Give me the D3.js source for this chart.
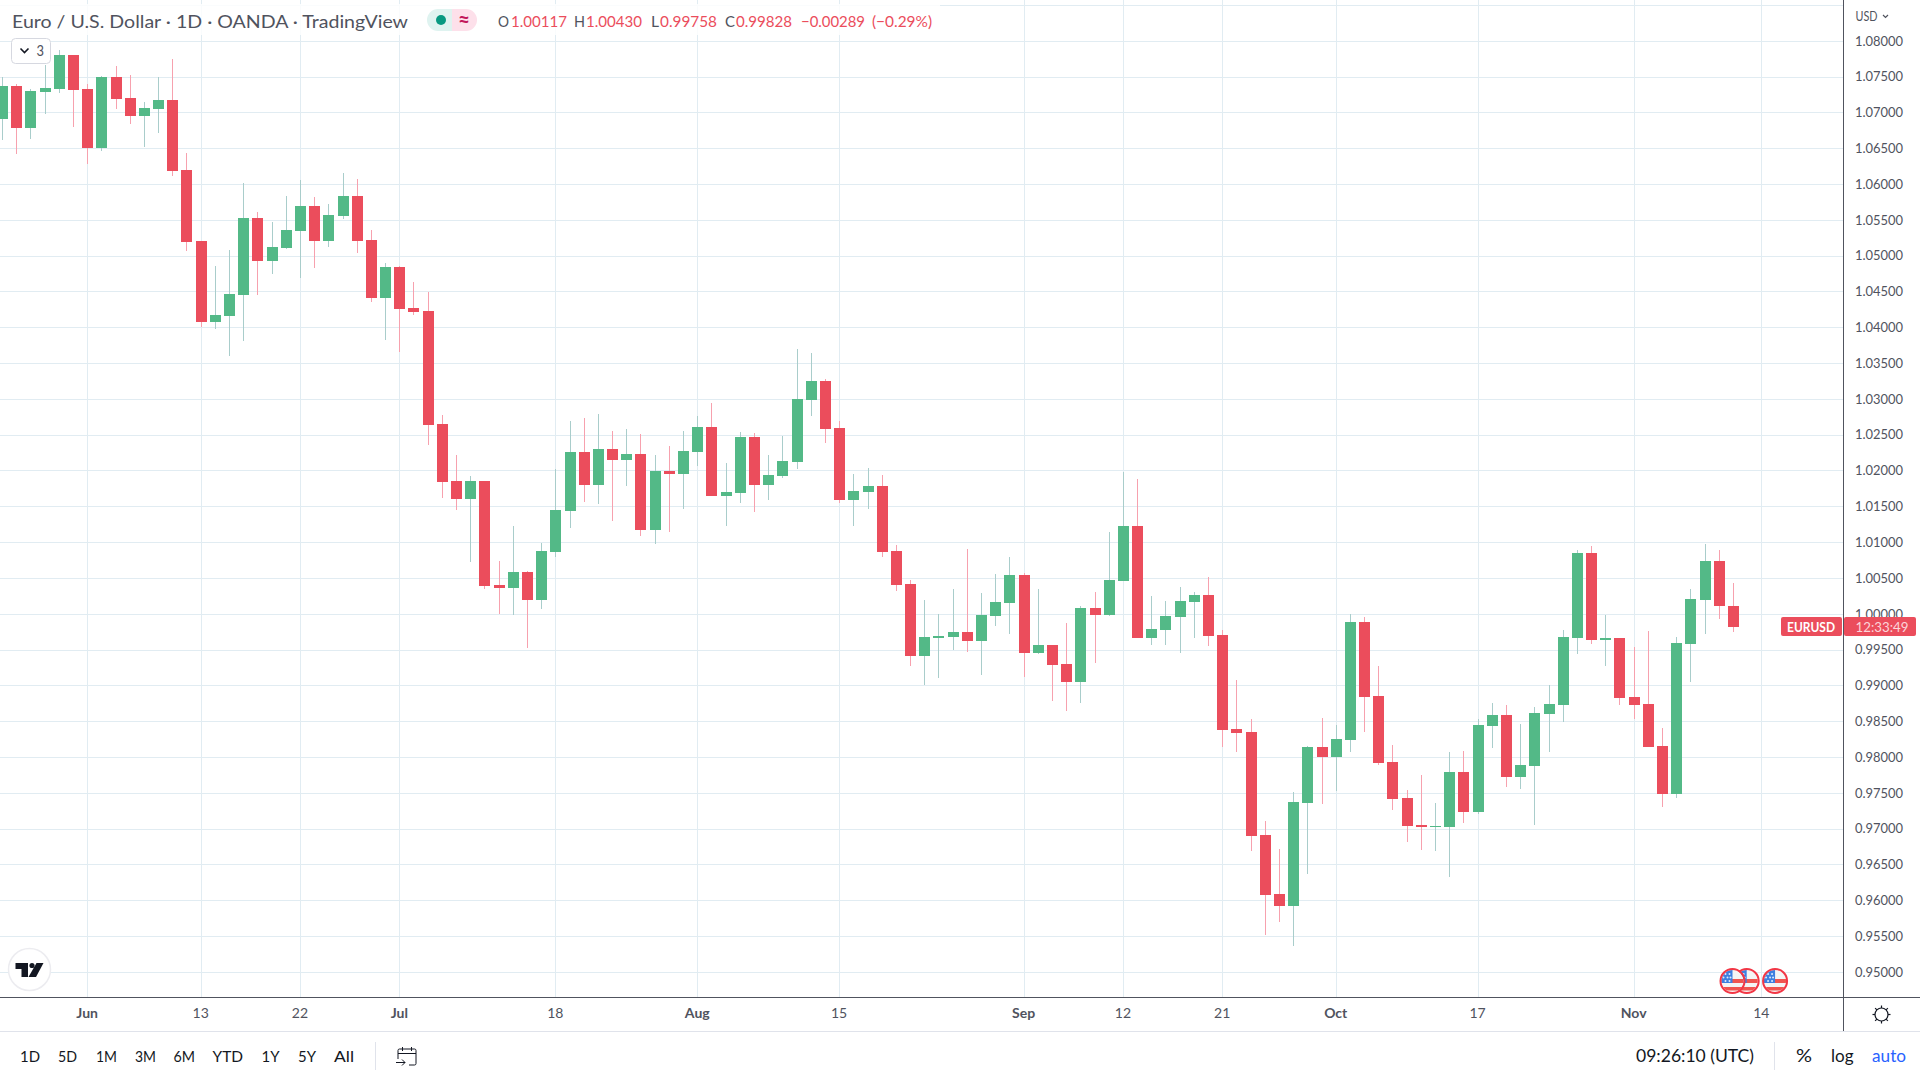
<!DOCTYPE html>
<html>
<head>
<meta charset="utf-8">
<title>EURUSD</title>
<script src="https://cdn.jsdelivr.net/npm/d3@7"></script>
<style>
  html, body { margin: 0; padding: 0; background: #fff; overflow: hidden; }
  svg { display: block; }
  text { font-family: "Lato", "Open Sans", sans-serif; }
</style>
</head>
<body>
<div id="chart"></div>
<script>
// daily bars
var opens = [
  1.06915,1.07376,1.06789,1.07292,1.07334,1.07809,1.07334,1.06510,1.07501,1.07208,
  1.06957,1.07055,1.07180,1.06203,1.05211,1.04080,1.04164,1.04457,1.05533,1.04932,
  1.05114,1.05351,1.05700,1.05211,1.05561,1.05840,1.05225,1.04416,1.04848,1.04276,
  1.04234,1.02656,1.01860,1.01609,1.01860,1.00408,1.00366,1.00590,1.00199,1.00869,
  1.01441,1.02265,1.01804,1.02307,1.02154,1.02237,1.01176,1.02000,1.01958,1.02265,
  1.02614,1.01651,1.01693,1.02475,1.01804,1.01930,1.02126,1.02991,1.03257,1.02600,
  1.01595,1.01707,1.01790,1.00883,1.00422,0.99417,0.99668,0.99682,0.99752,0.99626,
  0.99975,1.00157,1.00548,0.99459,0.99570,0.99305,0.99054,1.00087,0.99990,1.00464,
  1.01232,0.99668,0.99780,0.99961,1.00171,1.00268,0.99710,0.98397,0.98355,0.96917,
  0.96093,0.95926,0.97364,0.98146,0.98006,0.98244,0.99891,0.98858,0.97936,0.97434,
  0.97057,0.97029,0.97029,0.97797,0.97238,0.98439,0.98593,0.97727,0.97881,0.98607,
  0.98732,0.99668,1.00855,0.99640,0.99668,0.98844,0.98746,0.98160,0.97490,0.99584,
  1.00199,1.00743,1.00117];
var highs = [
  1.07506,1.07404,1.07334,1.07669,1.07879,1.07809,1.07404,1.07515,1.07655,1.07529,
  1.07152,1.07501,1.07753,1.06440,1.05211,1.04862,1.05086,1.06021,1.05616,1.05477,
  1.05840,1.06063,1.05826,1.05728,1.06161,1.06077,1.05365,1.04904,1.04862,1.04639,
  1.04499,1.02782,1.02223,1.01930,1.01860,1.00743,1.01232,1.00604,1.00995,1.02028,
  1.02698,1.02740,1.02796,1.02558,1.02586,1.02517,1.02223,1.02349,1.02558,1.02768,
  1.02949,1.02112,1.02544,1.02531,1.02223,1.02489,1.03703,1.03648,1.03285,1.02698,
  1.01958,1.02042,1.01944,1.00967,1.00478,1.00199,1.00003,1.00352,1.00911,1.00296,
  1.00562,1.00799,1.00576,1.00352,0.99570,0.99877,1.00115,1.00310,1.01148,1.01986,
  1.01888,1.00254,1.00185,1.00380,1.00310,1.00520,0.99780,0.99082,0.98537,0.97113,
  0.96722,0.97518,0.98160,0.98551,0.98453,1.00003,0.99961,0.99277,0.98174,0.97545,
  0.97755,0.97364,0.98076,0.98090,0.98537,0.98760,0.98732,0.98467,0.98704,0.99012,
  0.99780,1.00897,1.00953,0.99989,0.99668,0.99542,0.99766,0.98411,0.99682,1.00352,
  1.00981,1.00897,1.00430];
var lows = [
  1.06622,1.06426,1.06636,1.06985,1.07278,1.06803,1.06287,1.06468,1.07055,1.06845,
  1.06524,1.06720,1.06119,1.05072,1.04011,1.03983,1.03606,1.03815,1.04457,1.04751,
  1.05100,1.04695,1.04834,1.05128,1.05519,1.05044,1.04360,1.03829,1.03662,1.04178,
  1.02363,1.01623,1.01455,1.00729,1.00352,1.00003,0.99989,0.99528,1.00073,1.00799,
  1.01204,1.01567,1.01539,1.01302,1.01790,1.01092,1.00981,1.01148,1.01469,1.02070,
  1.01651,1.01232,1.01553,1.01427,1.01595,1.01902,1.02028,1.02768,1.02391,1.01553,
  1.01232,1.01469,1.00799,1.00324,0.99277,0.99012,0.99109,0.99500,0.99473,0.99151,
  0.99836,0.99724,0.99123,0.99445,0.98788,0.98649,0.98760,0.99319,0.99975,1.00464,
  0.99668,0.99570,0.99570,0.99459,0.99668,0.99556,0.98146,0.98076,0.96694,0.95521,
  0.95702,0.95367,0.96373,0.97350,0.97532,0.98076,0.98355,0.97895,0.97266,0.96819,
  0.96708,0.96694,0.96331,0.97085,0.97210,0.98132,0.97587,0.97559,0.97057,0.98076,
  0.98495,0.99445,0.99584,0.99277,0.98732,0.98537,0.98146,0.97308,0.97434,0.99054,
  0.99724,0.99933,0.99758];
var closes = [
  1.07376,1.06789,1.07306,1.07348,1.07809,1.07320,1.06510,1.07501,1.07194,1.06957,
  1.07069,1.07180,1.06189,1.05197,1.04080,1.04178,1.04471,1.05533,1.04932,1.05128,
  1.05365,1.05700,1.05211,1.05575,1.05840,1.05211,1.04416,1.04848,1.04262,1.04220,
  1.02642,1.01846,1.01609,1.01860,1.00394,1.00366,1.00590,1.00199,1.00883,1.01455,
  1.02265,1.01804,1.02307,1.02154,1.02237,1.01176,1.02000,1.01958,1.02279,1.02614,
  1.01651,1.01707,1.02475,1.01804,1.01944,1.02140,1.03005,1.03257,1.02586,1.01595,
  1.01721,1.01790,1.00869,1.00408,0.99417,0.99682,0.99696,0.99752,0.99626,0.99990,
  1.00171,1.00548,0.99459,0.99570,0.99291,0.99054,1.00087,0.99990,1.00478,1.01232,
  0.99668,0.99794,0.99975,1.00185,1.00268,0.99696,0.98383,0.98341,0.96903,0.96079,
  0.95926,0.97378,0.98146,0.98006,0.98258,0.99891,0.98844,0.97923,0.97420,0.97043,
  0.97029,0.97043,0.97797,0.97238,0.98453,0.98593,0.97727,0.97895,0.98621,0.98746,
  0.99682,1.00855,0.99640,0.99668,0.98830,0.98732,0.98146,0.97490,0.99598,1.00213,
  1.00743,1.00115,0.99828];

var priceTicks = d3.range(0, 27).map(function (k) { return +(1.08 - k * 0.005).toFixed(3); });
var gridPrices = [1.085].concat(priceTicks);
// bar index of each date label on the time axis
var timeTicks = [6, 14, 21, 28, 39, 49, 59, 72, 79, 86, 94, 104, 115, 124];
var timeLabels = ["Jun", "13", "22", "Jul", "18", "Aug", "15", "Sep", "12", "21", "Oct", "17", "Nov", "14"];
var monthLabels = ["Jun", "Jul", "Aug", "Sep", "Oct", "Nov"];
var eventBars = [123, 122, 125];
var rangeButtons = ["1D", "5D", "1M", "3M", "6M", "YTD", "1Y", "5Y", "All"];

var bars = opens.map(function (o, i) {
  return { i: i, o: o, h: highs[i], l: lows[i], c: closes[i] };
});

var WIDTH = 1920, HEIGHT = 1080;
var paneRight = 1843, paneBottom = 997, footTop = 1031;
var upColor = "#53b987", downColor = "#eb4d5c";
var upWick = "#a9cdcb", downWick = "#f7a1ae";
var gridColor = "#e1ecf2", axisColor = "#50535e", textColor = "#50535e", darkText = "#131722";

var svg = d3.select("#chart").append("svg").attr("width", WIDTH).attr("height", HEIGHT);

var x = d3.scaleLinear().domain([0, 122]).range([2.5, 1733.5]);
var y = d3.scaleLinear().domain([1.08, 0.95]).range([41.3, 972.3]);

// text with a fixed advance, the chart's font is not installed
function label(parent, str, px, py, len, size, fill, weight) {
  return parent.append("text")
    .attr("x", px).attr("y", py)
    .attr("dy", "0.35em")
    .attr("textLength", len)
    .attr("lengthAdjust", "spacingAndGlyphs")
    .attr("font-size", size)
    .attr("font-weight", weight || 400)
    .attr("fill", fill)
    .text(str);
}

// grid
var grid = svg.append("g");
grid.selectAll("line.h").data(gridPrices).enter().append("line")
  .attr("class", "h")
  .attr("x1", 0).attr("x2", paneRight)
  .attr("y1", function (d) { return Math.floor(y(d)) + 0.5; })
  .attr("y2", function (d) { return Math.floor(y(d)) + 0.5; })
  .attr("stroke", gridColor);
grid.selectAll("line.v").data(timeTicks).enter().append("line")
  .attr("class", "v")
  .attr("x1", function (d) { return Math.floor(x(d)) + 0.5; })
  .attr("x2", function (d) { return Math.floor(x(d)) + 0.5; })
  .attr("y1", 0).attr("y2", paneBottom)
  .attr("stroke", gridColor);

// candles
var candles = svg.append("g");
candles.selectAll("rect.wick").data(bars).enter().append("rect")
  .attr("class", "wick")
  .attr("x", function (d) { return Math.floor(x(d.i)); })
  .attr("width", 1)
  .attr("y", function (d) { return Math.round(y(d.h)); })
  .attr("height", function (d) { return Math.max(1, Math.round(y(d.l)) - Math.round(y(d.h))); })
  .attr("fill", function (d) { return d.c >= d.o ? upWick : downWick; });
candles.selectAll("rect.body").data(bars).enter().append("rect")
  .attr("class", "body")
  .attr("x", function (d) { return Math.floor(x(d.i)) - 5; })
  .attr("width", 11)
  .attr("y", function (d) { return Math.round(y(Math.max(d.o, d.c))); })
  .attr("height", function (d) { return Math.max(1, Math.round(y(Math.min(d.o, d.c))) - Math.round(y(Math.max(d.o, d.c)))); })
  .attr("fill", function (d) { return d.c >= d.o ? upColor : downColor; });

// faded strip behind the legend
svg.append("rect").attr("x", 0).attr("y", 4).attr("width", 940).attr("height", 31)
  .attr("fill", "#fff").attr("opacity", 0.82);

var legend = svg.append("g");
label(legend, "Euro / U.S. Dollar · 1D · OANDA · TradingView", 12, 21.5, 396, 18, textColor);
legend.append("path").attr("d", "M438,9H452V31H438A11,11 0 0 1 438,9Z").attr("fill", "#dff3f0");
legend.append("path").attr("d", "M452,9H466A11,11 0 0 1 466,31H452Z").attr("fill", "#fde0ea");
legend.append("circle").attr("cx", 441).attr("cy", 20).attr("r", 5).attr("fill", "#089981");
label(legend, "≈", 458, 20, 12, 20, "#c2185b", 700);

var ohlcParts = [
  ["O", 498, 11, textColor], ["1.00117", 511, 56, downColor],
  ["H", 574, 11, textColor], ["1.00430", 586, 56, downColor],
  ["L", 651, 8, textColor], ["0.99758", 660, 57, downColor],
  ["C", 725, 10, textColor], ["0.99828", 736, 56, downColor],
  ["−0.00289", 801, 64, downColor], ["(−0.29%)", 872, 60, downColor]
];
ohlcParts.forEach(function (p) { label(legend, p[0], p[1], 21.5, p[2], 15, p[3]); });

// collapsed indicators button
svg.append("rect").attr("x", 11.5).attr("y", 38.5).attr("width", 39).attr("height", 25).attr("rx", 4)
  .attr("fill", "#fff").attr("stroke", "#d6d8e0");
svg.append("path").attr("d", "M20.5,48.5L24.5,52.5L28.5,48.5").attr("fill", "none")
  .attr("stroke", darkText).attr("stroke-width", 1.6);
label(svg, "3", 36.5, 51, 7.5, 15, textColor);

// logo
var logo = svg.append("g");
logo.append("circle").attr("cx", 29.5).attr("cy", 969.5).attr("r", 21)
  .attr("fill", "#fff").attr("stroke", "#ececf0").attr("stroke-width", 1.5);
logo.append("path").attr("d", "M15.5,963H28V977H21.5V969H15.5Z").attr("fill", darkText);
logo.append("circle").attr("cx", 32).attr("cy", 965.5).attr("r", 2.6).attr("fill", darkText);
logo.append("path").attr("d", "M36.5,963H43.5L36,977H28.5Z").attr("fill", darkText);

// economic event flags
var defs = svg.append("defs");
defs.append("clipPath").attr("id", "flagClip").append("circle").attr("r", 11);
var flags = svg.selectAll("g.flag").data(eventBars).enter().append("g")
  .attr("class", "flag")
  .attr("transform", function (d) { return "translate(" + (x(d) - 1) + ",981)"; });
var flagInner = flags.append("g").attr("clip-path", "url(#flagClip)");
flagInner.append("rect").attr("x", -12).attr("y", -12).attr("width", 24).attr("height", 24).attr("fill", "#f4f4f4");
flagInner.append("rect").attr("x", -12).attr("y", -2).attr("width", 24).attr("height", 4).attr("fill", "#f0544f");
flagInner.append("rect").attr("x", -12).attr("y", 6).attr("width", 24).attr("height", 3.5).attr("fill", "#f0544f");
flagInner.append("rect").attr("x", -12).attr("y", -11).attr("width", 12).attr("height", 13).attr("fill", "#3d7fe0");
flagInner.selectAll("circle.star").data([[-7, -7], [-3, -7], [-9, -3.5], [-5, -3.5], [-2, -3.5], [-7, 0], [-3, 0]]).enter()
  .append("circle").attr("class", "star")
  .attr("cx", function (d) { return d[0]; }).attr("cy", function (d) { return d[1]; })
  .attr("r", 1).attr("fill", "#dce9fb");
flags.append("circle").attr("r", 12).attr("fill", "none").attr("stroke", "#f23645").attr("stroke-width", 2);

// price axis
svg.append("rect").attr("x", paneRight).attr("y", 0).attr("width", WIDTH - paneRight).attr("height", footTop).attr("fill", "#fff");
var yAxis = d3.axisRight(y).tickValues(priceTicks).tickFormat(d3.format(".5f")).tickSize(0).tickPadding(12);
var yG = svg.append("g").attr("transform", "translate(" + paneRight + ",-0.7)").call(yAxis);
yG.select(".domain").remove();
yG.selectAll("text").attr("fill", textColor).attr("font-size", 14)
  .attr("textLength", 48).attr("lengthAdjust", "spacingAndGlyphs");
label(svg, "USD", 1855.5, 16, 22, 13, textColor);
svg.append("path").attr("d", "M1883,15L1885.5,17.5L1888,15").attr("fill", "none").attr("stroke", textColor).attr("stroke-width", 1.2);

// time axis
svg.append("rect").attr("x", 0).attr("y", paneBottom).attr("width", WIDTH).attr("height", footTop - paneBottom).attr("fill", "#fff");
var xAxis = d3.axisBottom(x).tickValues(timeTicks)
  .tickFormat(function (d) { return timeLabels[timeTicks.indexOf(d)]; })
  .tickSize(0).tickPadding(11);
var xG = svg.append("g").attr("transform", "translate(-1," + paneBottom + ")").call(xAxis);
xG.select(".domain").remove();
xG.selectAll("text").attr("fill", textColor).attr("font-size", 14)
  .attr("font-weight", function (d) { return monthLabels.indexOf(timeLabels[timeTicks.indexOf(d)]) >= 0 ? 700 : 400; });

// frame
svg.append("line").attr("x1", 0).attr("x2", WIDTH).attr("y1", paneBottom + 0.5).attr("y2", paneBottom + 0.5).attr("stroke", axisColor);
svg.append("line").attr("x1", paneRight + 0.5).attr("x2", paneRight + 0.5).attr("y1", 0).attr("y2", footTop).attr("stroke", axisColor);
svg.append("line").attr("x1", 0).attr("x2", WIDTH).attr("y1", footTop + 0.5).attr("y2", footTop + 0.5).attr("stroke", "#e0e3eb");

// last price tag
svg.append("rect").attr("x", 1781).attr("y", 617).attr("width", 61).attr("height", 19).attr("rx", 2).attr("fill", downColor);
svg.append("rect").attr("x", 1844).attr("y", 617).attr("width", 72).attr("height", 19).attr("rx", 2).attr("fill", downColor);
label(svg, "EURUSD", 1787, 627, 48, 14, "#fff", 700);
label(svg, "12:33:49", 1855.5, 627, 53, 14, "#fcd5da");

// settings gear
var gear = svg.append("g").attr("transform", "translate(1881.5,1014.5)").attr("stroke", darkText).attr("fill", "none");
gear.append("circle").attr("r", 6.5).attr("stroke-width", 1.2);
gear.selectAll("line").data(d3.range(8)).enter().append("line")
  .attr("x1", 0).attr("x2", 0).attr("y1", -6.5).attr("y2", -9)
  .attr("transform", function (d) { return "rotate(" + d * 45 + ")"; })
  .attr("stroke-width", 1.2);

// bottom toolbar
var foot = svg.append("g");
var rangeX = [20, 58, 96, 135, 173.5, 212.5, 261.5, 298, 334];
var rangeW = [20, 19, 21, 21, 21.5, 30.5, 18, 18, 20];
rangeButtons.forEach(function (b, i) { label(foot, b, rangeX[i], 1056, rangeW[i], 16, darkText); });
foot.append("line").attr("x1", 375.5).attr("x2", 375.5).attr("y1", 1042).attr("y2", 1070).attr("stroke", "#e0e3eb");
foot.append("path")
  .attr("d", "M398,1059V1050.5A1.5,1.5 0 0 1 399.5,1049H414.5A1.5,1.5 0 0 1 416,1050.5V1063.5A1.5,1.5 0 0 1 414.5,1065H409M398,1053.5H416M402.5,1047V1051M411.5,1047V1051M396,1062.5H405M402,1059.5L405,1062.5L402,1065.5")
  .attr("fill", "none").attr("stroke", darkText).attr("stroke-width", 1);
label(foot, "09:26:10 (UTC)", 1636, 1056, 118, 17, darkText);
foot.append("line").attr("x1", 1774.5).attr("x2", 1774.5).attr("y1", 1042).attr("y2", 1070).attr("stroke", "#e0e3eb");
label(foot, "%", 1796, 1056, 16, 18, darkText);
label(foot, "log", 1831, 1056, 22.5, 17, darkText);
label(foot, "auto", 1872, 1056, 34, 17, "#2962ff");
</script>
</body>
</html>
